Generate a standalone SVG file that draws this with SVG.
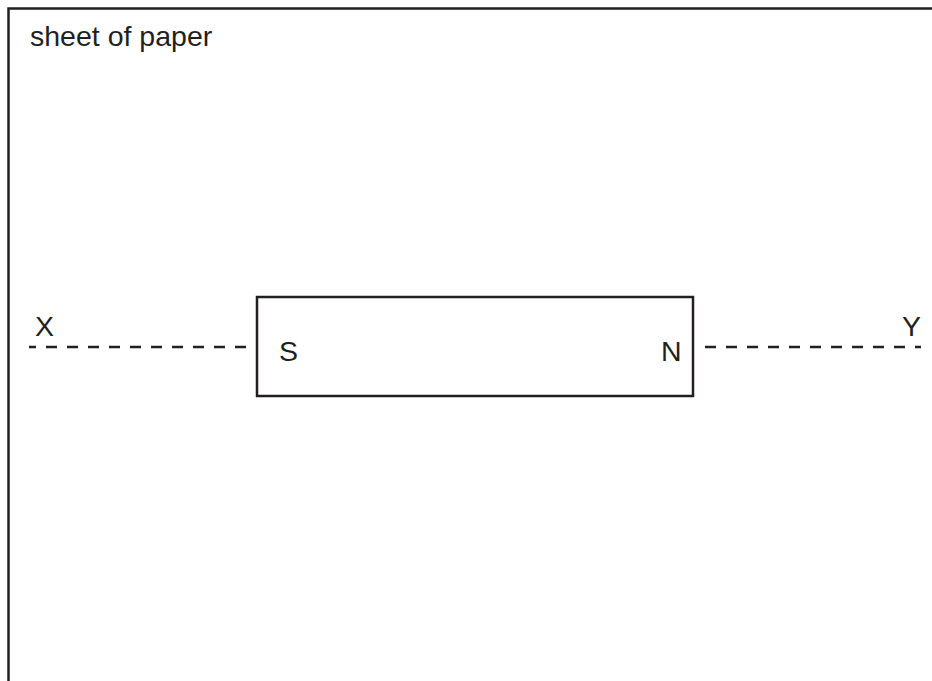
<svg xmlns="http://www.w3.org/2000/svg" width="932" height="681" viewBox="0 0 932 681">
<style>
.t{font-family:"Liberation Sans",Arial,sans-serif;font-size:28.5px;fill:#231f20}
.ln{fill:none;stroke:#231f20;stroke-width:2.5}
.d{fill:none;stroke:#231f20;stroke-width:2.5;stroke-dasharray:11 10}
</style>
<rect width="932" height="681" fill="#fff"/>
<g id="paper">
<path class="ln" d="M8.5 681 V8.5 H932"/>
<text class="t" x="30" y="46">sheet of paper</text>
</g>
<g id="magnet">
<rect class="ln" x="257" y="297" width="436" height="99"/>
<text class="t" x="279" y="361">S</text>
<text class="t" x="661" y="361">N</text>
</g>
<g id="labelX"><text class="t" x="35" y="336">X</text></g>
<g id="labelY"><text class="t" x="902" y="336">Y</text></g>
<g id="connectors">
<line class="d" x1="29" y1="347" x2="250" y2="347" stroke-dashoffset="4"/>
<line class="d" x1="705" y1="347" x2="921" y2="347"/>
</g>
</svg>
